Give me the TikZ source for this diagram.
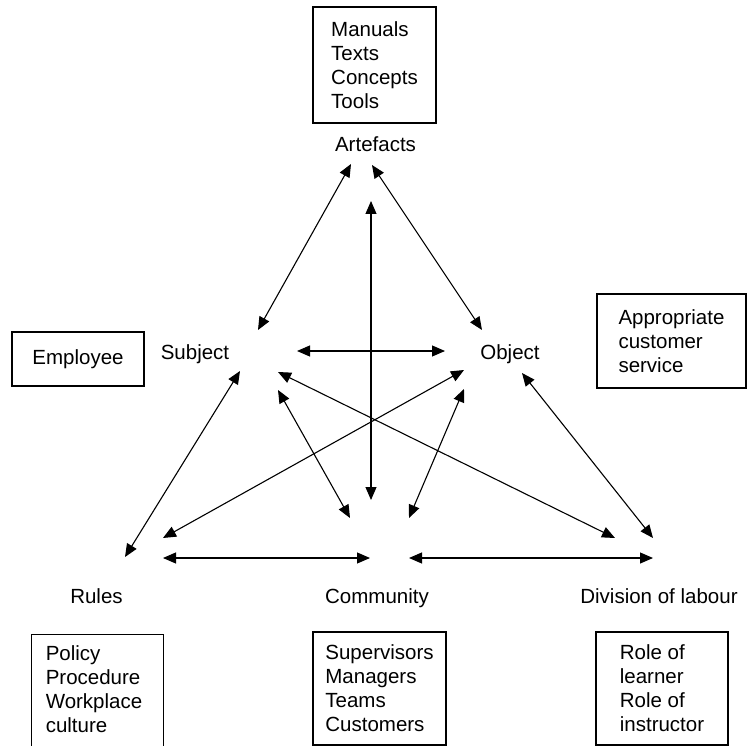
\documentclass[tikz,border=0pt]{standalone}
\usepackage{fontspec}
\setmainfont{Liberation Sans}
\usetikzlibrary{arrows.meta}
\begin{document}
\begin{tikzpicture}[x=1pt,y=-1pt,
  txt/.style={font=\fontsize{20.5}{24}\selectfont, inner sep=0pt},
  boxst/.style={draw, line width=1.2pt, txt, align=left},
  link/.style={line width=1.1pt, {Triangle[length=13pt,width=11pt]}-{Triangle[length=13pt,width=11pt]}}]
\useasboundingbox (0,0) rectangle (747,746);

% boxes
\node (artbox) [boxst, minimum width=123pt, minimum height=116pt] at (374.5,65) {Manuals\\Texts\\Concepts\\Tools};
\node (empbox) [boxst, minimum width=132pt, minimum height=54pt] at (78,359) {Employee};
\node (objbox) [boxst, minimum width=149pt, minimum height=94pt] at (671.5,341) {Appropriate\\customer\\service};
\node (polframe) [draw, line width=1.2pt, minimum width=132pt, minimum height=125pt, inner sep=0pt, anchor=north west] at (31,634) {};
\node (poltext) [txt, align=left] at (94,689.5) {Policy\\Procedure\\Workplace\\culture};
\node (combox) [boxst, minimum width=133pt, minimum height=113pt] at (379.5,688.5) {Supervisors\\Managers\\Teams\\Customers};
\node (divbox) [boxst, minimum width=132pt, minimum height=113pt] at (662,688.5) {Role of\\learner\\Role of\\instructor};

% labels
\node (art)   [txt, anchor=base] at (375.5,152) {Artefacts};
\node (subj)  [txt, anchor=base] at (195,359) {Subject};
\node (obj)   [txt, anchor=base] at (510,359) {Object};
\node (rules) [txt, anchor=base] at (96.5,603) {Rules};
\node (comm)  [txt, anchor=base] at (377,603) {Community};
\node (div)   [txt, anchor=base] at (659,603) {Division of labour};

% arrow end points
\coordinate (A1) at (351,164);
\coordinate (A2) at (372,165);
\coordinate (S1) at (258,330);
\coordinate (S2) at (297,351);
\coordinate (S3) at (240,371);
\coordinate (S4) at (278,372);
\coordinate (S5) at (278,390);
\coordinate (O1) at (482,330);
\coordinate (O2) at (445,351);
\coordinate (O3) at (464,370);
\coordinate (O4) at (464,389);
\coordinate (O5) at (522,373);
\coordinate (VT) at (371,201);
\coordinate (VB) at (371,500);
\coordinate (R1) at (125,557);
\coordinate (R2) at (163,538);
\coordinate (R3) at (163,558);
\coordinate (C1) at (350,518);
\coordinate (C2) at (409,518);
\coordinate (C3) at (370,558);
\coordinate (C4) at (409,558);
\coordinate (D1) at (615,538);
\coordinate (D2) at (653,538);
\coordinate (D3) at (653,558);

% connectors
\draw[link] (A1) -- (S1);
\draw[link] (A2) -- (O1);
\draw[link] (VT) -- (VB);
\draw[link] (S2) -- (O2);
\draw[link] (S3) -- (R1);
\draw[link] (O3) -- (R2);
\draw[link] (S4) -- (D1);
\draw[link] (O5) -- (D2);
\draw[link] (S5) -- (C1);
\draw[link] (O4) -- (C2);
\draw[link] (R3) -- (C3);
\draw[link] (C4) -- (D3);
\end{tikzpicture}
\end{document}
